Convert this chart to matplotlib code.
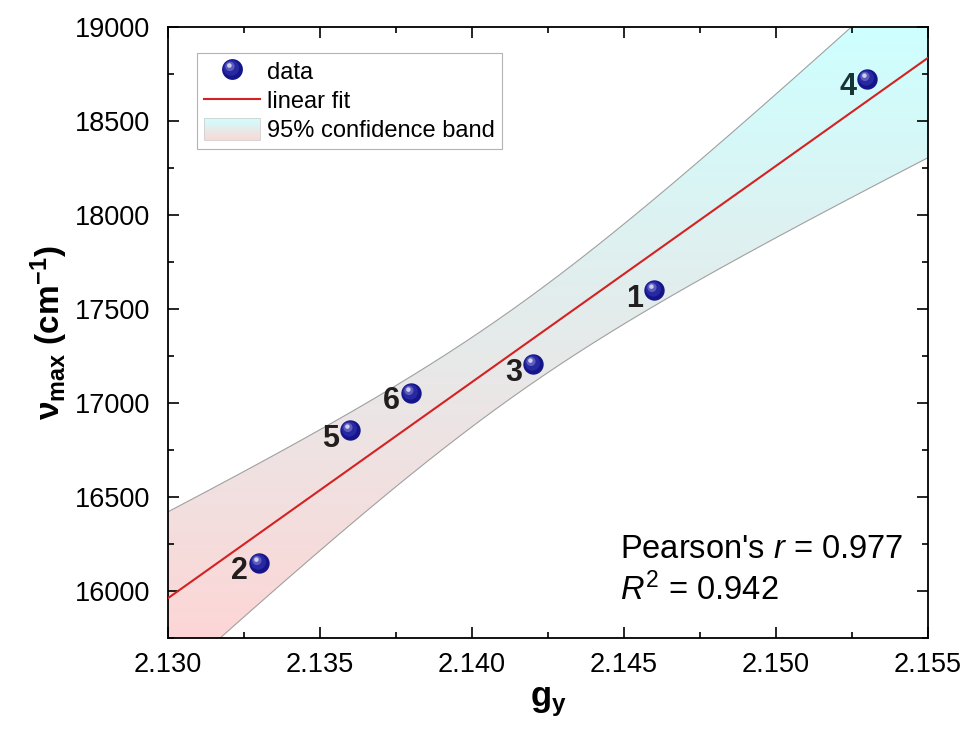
import numpy as np
import matplotlib
matplotlib.use('Agg')
from matplotlib import pyplot as plt
from matplotlib.path import Path
from matplotlib.patches import Rectangle
from matplotlib.lines import Line2D
from matplotlib.legend_handler import HandlerBase, HandlerTuple
from matplotlib.ticker import MultipleLocator, FormatStrFormatter

plt.rcParams['font.family'] = ['Liberation Sans', 'DejaVu Sans']
plt.rcParams['mathtext.fontset'] = 'custom'
plt.rcParams['mathtext.rm'] = 'Liberation Sans'
plt.rcParams['mathtext.it'] = 'Liberation Sans:italic'
plt.rcParams['mathtext.bf'] = 'Liberation Sans:bold'

# complexes 1-6
labels = ['1', '2', '3', '4', '5', '6']
gy = np.array([2.146, 2.133, 2.142, 2.153, 2.136, 2.138])
nu_max = np.array([17600, 16150, 17205, 18725, 16855, 17055])

pearson_r = 0.977
r_squared = 0.942
t_95 = 2.776  # two-sided 95%, df = n - 2 = 4

pink = np.array([253, 214, 214]) / 255.
cyan = np.array([206, 255, 255]) / 255.


def offset_circle(cx, cy, r):
    # two bare MOVETOs pin the marker scale so the circle keeps its offset
    circ = Path.circle((cx, cy), r)
    verts = np.vstack([[[-1, -1], [1, 1]], circ.vertices])
    codes = [Path.MOVETO, Path.MOVETO] + list(circ.codes)
    return Path(verts, codes)


ball_layers = [
    (Path.unit_circle(), '#15158a', 1.0),
    (offset_circle(-0.12, 0.15, 0.75), '#2828a2', 1.0),
    (offset_circle(-0.25, 0.3, 0.45), '#6464c2', 0.9),
    (offset_circle(-0.3, 0.38, 0.22), '#dcdcf2', 0.9),
]


class GradientHandler(HandlerBase):
    def create_artists(self, legend, orig_handle, xdescent, ydescent,
                       width, height, fontsize, trans):
        n = 24
        arts = []
        for i in range(n):
            c = pink + (cyan - pink) * (i + 0.5) / n
            r = Rectangle((-xdescent, -ydescent + height * i / n), width,
                          height / n + 0.3, facecolor=c, edgecolor='none',
                          transform=trans)
            arts.append(r)
        arts.append(Rectangle((-xdescent, -ydescent), width, height,
                              facecolor='none', edgecolor='#d0d0d0', lw=0.6,
                              transform=trans))
        return arts


fig = plt.figure(figsize=(9.68, 7.38), dpi=100)
ax = fig.add_axes([0.1736, 0.1355, 0.7851, 0.8279])

xlim = (2.130, 2.155)
ylim = (15750, 19000)

# least squares fit and 95% confidence band of the mean
n = len(gy)
slope, intercept = np.polyfit(gy, nu_max, 1)
resid = nu_max - (slope * gy + intercept)
s_err = np.sqrt(np.sum(resid ** 2) / (n - 2))
xx = np.linspace(xlim[0], xlim[1], 300)
yfit = slope * xx + intercept
half = t_95 * s_err * np.sqrt(1. / n + (xx - gy.mean()) ** 2 / np.sum((gy - gy.mean()) ** 2))
lower, upper = yfit - half, yfit + half

band = ax.fill_between(xx, lower, upper, facecolor='none', edgecolor='none')
grad = np.linspace(0, 1, 256)[:, None, None]
img = pink + (cyan - pink) * grad
im = ax.imshow(img, extent=[xlim[0], xlim[1], ylim[0], ylim[1]], origin='lower',
               aspect='auto', interpolation='bilinear', zorder=1)
im.set_clip_path(band.get_paths()[0], transform=ax.transData)
ax.plot(xx, lower, color='#a0a0a0', lw=0.8, zorder=2)
ax.plot(xx, upper, color='#a0a0a0', lw=0.8, zorder=2)

ax.plot(xx, yfit, color='#d42222', lw=1.5, zorder=3)

for path, col, alpha in ball_layers:
    ax.scatter(gy, nu_max, s=215, marker=path, color=col, alpha=alpha,
               linewidths=0, zorder=5)

for lab, x, y in zip(labels, gy, nu_max):
    col = '#183434' if lab == '4' else '#231e1e'
    ax.annotate(lab, (x, y), xytext=(-14, -6), textcoords='offset points',
                ha='center', va='center', fontsize=22, fontweight='bold',
                color=col, zorder=6)

ax.set_xlim(*xlim)
ax.set_ylim(*ylim)
ax.xaxis.set_major_locator(MultipleLocator(0.005))
ax.xaxis.set_minor_locator(MultipleLocator(0.0025))
ax.xaxis.set_major_formatter(FormatStrFormatter('%.3f'))
ax.yaxis.set_major_locator(MultipleLocator(500))
ax.yaxis.set_minor_locator(MultipleLocator(250))
ax.tick_params(which='both', direction='in', top=True, right=True,
               labelsize=19.5, width=1.2)
ax.tick_params(axis='y', pad=13)
ax.tick_params(axis='x', pad=10)
ax.tick_params(which='major', length=8)
ax.tick_params(which='minor', length=4)
for sp in ax.spines.values():
    sp.set_linewidth(1.3)

ax.set_xlabel(r'$\mathbf{g_y}$', fontsize=25, labelpad=5)
ax.set_ylabel(r'$\mathbf{\nu_{max}}$ (cm$^{\mathbf{-1}}$)', fontsize=24,
              fontweight='bold', labelpad=3)

ax.text(0.595, 0.131, "Pearson's $\\it{r}$ = %.3f" % pearson_r,
        transform=ax.transAxes, fontsize=23.5, va='baseline')
ax.text(0.595, 0.062, "$\\it{R}^2$ = %.3f" % r_squared,
        transform=ax.transAxes, fontsize=23.5, va='baseline')

ball_handle = tuple(Line2D([], [], ls='none', marker=p, markersize=15,
                           markerfacecolor=c, markeredgewidth=0, alpha=a)
                    for p, c, a in ball_layers)
line_handle = Line2D([], [], color='#d42222', lw=1.5)
band_handle = Rectangle((0, 0), 1, 1)
leg = ax.legend([ball_handle, line_handle, band_handle],
                ['data', 'linear fit', '95% confidence band'],
                handler_map={tuple: HandlerTuple(ndivide=1), Rectangle: GradientHandler()},
                loc='upper left', bbox_to_anchor=(0.038, 0.957), fontsize=17,
                frameon=True, fancybox=False, edgecolor='#a0a0a0',
                handlelength=2.4, handleheight=1.05, labelspacing=0.22,
                borderpad=0.28, borderaxespad=0, handletextpad=0.3)
leg.get_frame().set_linewidth(0.8)

plt.savefig('out.png', dpi=100)
